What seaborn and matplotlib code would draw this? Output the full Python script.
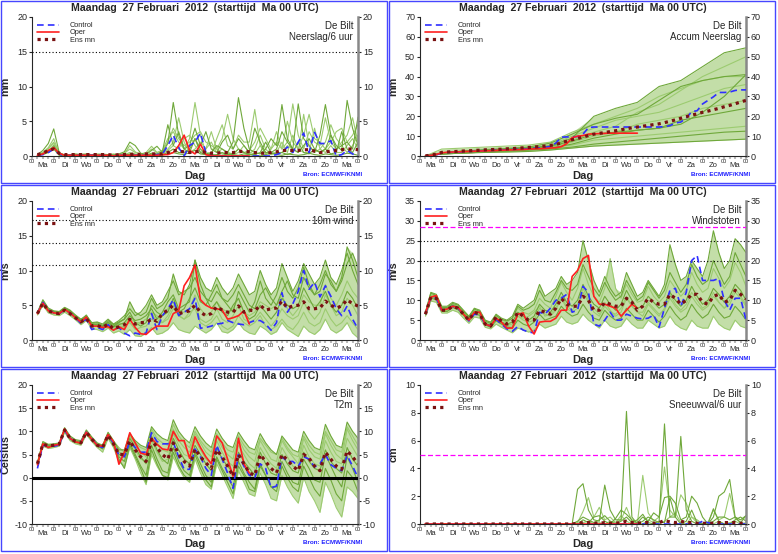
import numpy as np
import pandas as pd
import matplotlib
matplotlib.use("Agg")
import matplotlib.pyplot as plt
import seaborn as sns
from matplotlib.lines import Line2D
from matplotlib.patches import Rectangle

# time axis: 6-hourly steps from Ma 06 UTC to +360 h
hours = list(range(6, 361, 6))
days = ["Ma", "Di", "Wo", "Do", "Vr", "Za", "Zo", "Ma", "Di", "Wo", "Do", "Vr", "Za", "Zo", "Ma"]
title = "Maandag  27 Februari  2012  (starttijd  Ma 00 UTC)"

# ---------------- Neerslag / 6 uur (mm) ----------------
pr_control = [0.1, 0.2, 0.5, 1.0, 0.3, 0.0, 0.1, 0.1, 0.1, 0.1, 0.1, 0.1, 0.1, 0.1, 0.0, 0.1,
              0.1, 0.1, 0.1, 0.1, 0.1, 0.1, 0.2, 0.3, 1.5, 3.0, 1.2, 0.0, 1.5, 2.0, 3.3, 0.5,
              0.0, 0.0, 0.0, 0.0, 0.0, 0.0, 0.0, 0.0, 0.0, 0.0, 0.0, 0.0, 0.2, 0.5, 1.3, 0.5,
              2.0, 3.3, 0.5, 3.4, 1.8, 1.8, 2.2, 0.0, 0.2, 0.8, 0.3, 0.0]
pr_oper = [0.1, 0.3, 0.8, 1.2, 0.4, 0.1, 0.1, 0.1, 0.1, 0.1, 0.1, 0.1, 0.1, 0.1, 0.0, 0.1,
           0.1, 0.1, 0.1, 0.1, 0.1, 0.1, 0.1, 0.2, 0.2, 0.5, 1.5, 3.0, 0.8, 0.3, 1.7, 0.2,
           0.0, 0.0, 0.0, 0.0, 0.0, 0.0, 0.0, 0.0]
pr_ensmn = [0.2, 0.4, 0.8, 1.0, 0.4, 0.2, 0.2, 0.2, 0.2, 0.2, 0.2, 0.2, 0.2, 0.2, 0.1, 0.2,
            0.2, 0.2, 0.3, 0.2, 0.3, 0.3, 0.3, 0.3, 0.5, 0.8, 0.7, 0.6, 0.5, 0.6, 0.7, 0.5,
            0.4, 0.4, 0.5, 0.5, 0.5, 0.6, 0.7, 0.6, 0.5, 0.4, 0.4, 0.5, 0.6, 0.8, 0.8, 0.8,
            0.8, 0.9, 0.9, 0.7, 0.5, 0.6, 0.7, 0.8, 0.9, 1.0, 1.0, 0.9]
pr_members = [
    [0.2, 0.8, 1.8, 3.9, 0.5, 0.1, 0.2, 0.3, 0.2, 0.3, 0.2, 0.1, 0.1, 0.2, 0.1, 0.3,
     0.6, 2.0, 1.5, 0.4, 0.2, 0.8, 1.4, 0.5, 1.8, 7.7, 3.0, 1.0, 0.5, 2.5, 1.0, 0.3,
     0.5, 1.5, 1.0, 0.5, 2.0, 8.4, 4.0, 1.0, 0.5, 0.3, 1.0, 2.5, 1.5, 7.4, 2.5, 1.0,
     0.5, 1.5, 2.5, 1.0, 0.5, 1.0, 3.0, 1.5, 0.8, 8.0, 4.0, 1.5],
    [0.1, 0.5, 1.2, 2.5, 0.3, 0.1, 0.1, 0.1, 0.3, 0.2, 0.1, 0.2, 0.2, 0.1, 0.2, 0.2,
     0.3, 1.5, 0.6, 0.2, 0.3, 1.0, 0.5, 0.8, 2.5, 3.5, 2.0, 1.0, 2.5, 7.7, 3.0, 0.5,
     0.3, 2.5, 4.5, 1.5, 1.0, 3.0, 2.0, 2.0, 6.7, 1.5, 0.3, 1.0, 3.5, 1.0, 2.0, 7.5,
     3.0, 1.0, 3.5, 2.0, 1.5, 5.5, 2.0, 1.0, 2.0, 3.0, 5.5, 2.0],
    [0.0, 0.3, 0.6, 1.5, 0.2, 0.0, 0.0, 0.1, 0.1, 0.1, 0.2, 0.1, 0.0, 0.1, 0.1, 0.1,
     0.1, 0.3, 0.2, 0.1, 0.1, 0.4, 0.3, 0.6, 4.5, 1.5, 3.5, 1.0, 1.5, 4.0, 1.5, 3.5,
     1.0, 0.5, 2.0, 3.0, 1.0, 2.5, 1.5, 0.5, 4.0, 2.0, 0.5, 0.5, 1.0, 3.5, 2.0, 1.0,
     7.5, 2.5, 1.5, 0.5, 3.0, 7.4, 3.0, 1.0, 1.5, 2.0, 1.0, 5.6],
    [0.1, 0.4, 1.0, 1.8, 0.3, 0.1, 0.1, 0.0, 0.0, 0.1, 0.1, 0.0, 0.1, 0.0, 0.1, 0.1,
     0.1, 0.2, 0.1, 0.1, 0.2, 0.2, 0.2, 0.4, 1.0, 2.0, 5.5, 2.0, 0.5, 1.0, 2.0, 1.0,
     3.5, 1.0, 0.3, 0.5, 0.3, 1.0, 0.5, 0.3, 1.0, 3.0, 1.0, 0.2, 0.5, 0.5, 1.5, 1.0,
     0.5, 6.0, 1.5, 0.5, 1.0, 2.0, 4.5, 2.5, 1.5, 0.5, 1.5, 3.0],
    [0.1, 0.2, 0.5, 1.0, 0.1, 0.0, 0.0, 0.0, 0.0, 0.0, 0.0, 0.0, 0.0, 0.0, 0.0, 0.0,
     0.0, 0.0, 0.0, 0.0, 0.0, 0.0, 0.1, 0.1, 0.3, 0.5, 0.3, 0.2, 0.5, 0.8, 0.3, 0.2,
     0.2, 0.1, 0.1, 0.3, 0.2, 0.1, 0.3, 0.2, 0.1, 0.0, 0.2, 0.4, 0.2, 0.1, 0.3, 0.2,
     0.1, 0.2, 0.4, 0.2, 0.1, 0.3, 0.2, 0.1, 0.2, 0.4, 0.3, 0.1],
    [0.1, 0.3, 0.8, 1.3, 0.2, 0.1, 0.0, 0.1, 0.1, 0.0, 0.1, 0.1, 0.0, 0.1, 0.0, 0.1,
     0.2, 0.5, 0.3, 0.1, 0.1, 0.3, 0.2, 0.3, 0.8, 1.5, 1.0, 2.5, 3.0, 1.5, 0.5, 1.0,
     2.0, 0.5, 1.0, 0.5, 0.2, 0.5, 1.5, 0.5, 0.3, 1.5, 0.5, 0.3, 0.5, 2.0, 0.5, 3.0,
     1.0, 0.5, 0.5, 4.0, 1.0, 0.5, 1.5, 0.5, 0.5, 1.5, 2.5, 1.0],
    [0.1, 0.3, 0.7, 1.1, 0.3, 0.1, 0.1, 0.1, 0.1, 0.1, 0.1, 0.1, 0.1, 0.1, 0.1, 0.0,
     0.1, 0.2, 0.1, 0.1, 0.2, 0.1, 0.1, 0.2, 0.5, 1.0, 0.5, 0.5, 1.0, 2.5, 0.5, 0.2,
     0.1, 0.2, 0.5, 0.2, 0.3, 1.0, 0.5, 0.2, 0.2, 0.5, 2.0, 0.5, 0.3, 0.5, 0.2, 0.5,
     2.0, 0.5, 0.3, 1.0, 0.5, 1.0, 0.3, 0.5, 3.5, 1.0, 0.5, 2.0],
    [0.2, 0.5, 1.1, 2.0, 0.4, 0.2, 0.1, 0.2, 0.2, 0.2, 0.2, 0.3, 0.3, 0.2, 0.3, 0.2,
     0.4, 1.0, 0.5, 0.3, 0.5, 1.4, 0.5, 0.8, 2.0, 4.0, 2.5, 1.5, 2.0, 3.0, 3.5, 2.0,
     1.5, 1.0, 2.5, 6.0, 2.5, 1.0, 0.5, 0.8, 2.0, 4.0, 2.5, 1.0, 2.0, 1.0, 5.0, 2.0,
     1.0, 3.0, 6.0, 2.5, 2.0, 1.0, 2.0, 3.5, 4.0, 2.0, 3.0, 4.5],
]

# ---------------- Accum Neerslag (mm) ----------------
acc_control = [0.0, 0.2, 0.6, 1.5, 1.8, 1.9, 2.0, 2.1, 2.3, 2.4, 2.6, 2.7, 2.8, 2.9, 3.0, 3.1,
               3.3, 3.4, 3.5, 3.7, 3.9, 4.1, 4.4, 4.8, 6.5, 9.5, 9.6, 9.6, 9.8, 11.0, 14.3, 14.6,
               14.6, 14.6, 14.6, 14.6, 14.6, 14.6, 14.6, 14.6, 14.6, 14.6, 14.6, 14.6, 14.8, 15.3, 16.6, 17.1,
               19.0, 22.3, 22.8, 26.2, 28.0, 29.8, 32.0, 32.0, 32.2, 33.0, 33.3, 33.3]
acc_oper = [0.0, 0.3, 0.8, 1.6, 1.9, 2.0, 2.1, 2.2, 2.3, 2.4, 2.5, 2.6, 2.7, 2.8, 2.9, 3.0,
            3.1, 3.2, 3.3, 3.5, 3.6, 3.7, 3.8, 4.0, 4.2, 4.7, 6.2, 9.2, 10.0, 10.3, 11.0, 11.2,
            11.3, 11.4, 11.5, 11.5, 11.5, 11.5, 11.5, 11.5]
acc_ensmn = [0.1, 0.4, 1.0, 1.8, 2.0, 2.2, 2.3, 2.5, 2.6, 2.8, 2.9, 3.1, 3.2, 3.3, 3.4, 3.6,
             3.7, 3.9, 4.1, 4.3, 4.5, 4.7, 5.0, 5.3, 5.8, 6.6, 7.5, 8.2, 8.8, 9.5, 10.3, 11.0,
             11.4, 11.8, 12.3, 12.7, 13.2, 13.7, 14.2, 14.6, 15.0, 15.4, 15.8, 16.2, 16.8, 17.5, 18.2, 19.0,
             19.8, 20.6, 21.2, 22.0, 22.6, 23.3, 24.0, 24.8, 25.5, 26.3, 27.2, 28.0]
acc_hours = [6, 24, 48, 72, 96, 120, 144, 168, 192, 216, 240, 264, 288, 312, 336, 360]
acc_members = [
    [0, 1.5, 2.5, 3.0, 3.5, 4.0, 5.0, 9.0, 20.0, 24.0, 27.0, 35.0, 38.0, 45.0, 52.0, 54.5],
    [0, 1.2, 2.0, 2.5, 3.0, 3.5, 4.5, 8.0, 12.0, 15.0, 22.0, 26.0, 33.0, 40.0, 45.0, 50.0],
    [0, 1.0, 1.5, 2.0, 2.5, 3.0, 4.0, 6.0, 9.0, 11.0, 13.0, 14.0, 16.0, 22.0, 30.0, 41.0],
    [0, 1.3, 2.2, 2.8, 3.2, 3.8, 5.5, 10.0, 14.0, 18.0, 20.0, 22.0, 26.0, 30.0, 34.0, 36.0],
    [0, 1.0, 1.5, 1.8, 2.0, 2.3, 3.0, 4.0, 5.0, 5.5, 6.0, 6.5, 7.0, 7.5, 8.0, 8.5],
    [0, 1.2, 1.8, 2.3, 2.8, 3.2, 4.0, 5.5, 8.0, 9.0, 10.0, 11.0, 12.0, 13.0, 14.0, 15.0],
    [0, 1.5, 2.5, 3.2, 3.8, 4.5, 6.5, 11.0, 16.0, 19.0, 21.0, 28.0, 35.0, 38.0, 40.0, 41.0],
    [0, 1.1, 1.8, 2.5, 3.0, 3.5, 4.5, 7.0, 10.0, 12.0, 16.0, 18.0, 20.0, 24.0, 26.0, 28.0],
    [0, 1.3, 2.0, 2.8, 3.3, 4.0, 5.0, 7.5, 11.0, 12.0, 13.0, 14.0, 18.0, 20.0, 22.0, 24.0],
    [0, 3.5, 4.0, 4.5, 5.0, 5.5, 7.0, 12.0, 16.0, 20.0, 24.0, 30.0, 34.0, 38.0, 40.0, 40.0],
    [0, 1.0, 1.5, 2.0, 2.5, 3.0, 3.5, 4.5, 6.0, 7.0, 8.0, 9.0, 10.0, 11.0, 12.0, 12.5],
]

# ---------------- 10m wind (m/s) ----------------
wind_control = [3.8, 5.4, 4.3, 3.9, 3.8, 4.3, 3.9, 3.2, 2.4, 3.0, 1.5, 1.8, 1.5, 2.2, 1.5, 1.8,
                1.0, 0.6, 1.0, 0.8, 1.0, 3.8, 1.5, 3.5, 4.5, 5.8, 3.5, 4.0, 4.5, 6.0, 1.7, 1.8,
                2.0, 2.3, 2.4, 2.8, 2.5, 2.3, 2.2, 2.5, 2.8, 2.8, 2.3, 1.4, 2.5, 6.8, 4.0, 5.2,
                7.0, 10.0, 7.3, 8.3, 6.2, 7.8, 6.3, 4.5, 3.5, 4.9, 3.0, 1.6]
wind_oper = [3.8, 5.3, 4.2, 3.9, 3.8, 4.4, 3.9, 3.2, 2.6, 3.3, 2.0, 2.0, 1.8, 1.9, 1.4, 1.9,
             1.5, 3.0, 1.8, 0.9, 0.8, 1.5, 2.0, 2.0, 2.0, 3.8, 4.2, 7.8, 9.0, 10.8, 5.8, 5.0,
             4.6, 4.5, 4.3, 3.0, 3.2, 3.5, 4.2, 2.3]
wind_ensmn = [3.8, 5.3, 4.2, 3.9, 3.8, 4.3, 3.8, 3.2, 2.6, 3.1, 2.0, 2.1, 1.8, 2.3, 1.6, 1.9,
              2.2, 3.0, 2.3, 2.5, 2.5, 3.0, 2.7, 3.8, 4.3, 5.0, 3.8, 4.0, 4.2, 5.0, 4.0, 3.5,
              3.8, 4.8, 4.3, 4.0, 4.0, 4.9, 4.0, 4.3, 4.2, 5.0, 4.3, 4.5, 4.6, 5.6, 4.6, 4.9,
              5.0, 5.5, 4.5, 4.5, 4.6, 5.6, 5.0, 4.6, 4.9, 5.8, 5.2, 4.9]
wind_members = [
    [4.0, 5.8, 4.6, 4.2, 4.1, 4.7, 4.3, 3.6, 3.0, 3.5, 2.5, 2.6, 2.3, 3.0, 2.3, 2.8,
     3.5, 4.5, 3.5, 4.0, 5.0, 6.5, 5.0, 5.5, 7.0, 8.5, 6.5, 7.0, 7.5, 9.0, 7.0, 6.0,
     5.5, 7.0, 6.0, 5.5, 6.5, 8.0, 6.5, 5.0, 4.5, 6.5, 7.5, 6.0, 5.0, 7.0, 8.5, 6.5,
     6.0, 9.0, 7.5, 6.5, 8.0, 10.0, 8.0, 7.0, 9.0, 13.4, 11.5, 9.0],
    [3.6, 5.0, 3.9, 3.6, 3.5, 4.0, 3.5, 2.9, 2.2, 2.8, 1.6, 1.5, 1.2, 1.7, 1.0, 1.3,
     0.8, 1.5, 0.6, 0.5, 1.0, 1.8, 0.8, 1.0, 1.5, 2.5, 1.5, 1.2, 1.0, 2.0, 1.5, 1.0,
     1.5, 2.5, 1.2, 1.0, 1.5, 2.5, 1.5, 1.0, 0.8, 2.0, 1.5, 0.8, 1.2, 2.5, 1.5, 1.0,
     0.5, 2.0, 1.2, 0.8, 1.5, 3.0, 1.5, 1.0, 1.5, 2.5, 1.0, 0.3],
    [3.9, 5.5, 4.3, 4.0, 3.8, 4.4, 3.9, 3.2, 2.7, 3.3, 2.2, 2.3, 2.0, 2.5, 1.9, 2.2,
     2.5, 3.5, 2.8, 3.0, 3.5, 4.5, 3.0, 4.0, 5.5, 6.5, 4.5, 5.0, 5.5, 11.5, 8.0, 6.0,
     4.5, 5.5, 4.0, 3.5, 5.0, 6.0, 4.0, 3.0, 3.5, 5.0, 4.0, 3.0, 4.0, 6.0, 5.0, 4.5,
     5.0, 7.5, 6.0, 4.5, 5.5, 7.0, 5.0, 4.0, 5.0, 7.0, 6.0, 4.5],
    [3.7, 5.2, 4.0, 3.8, 3.7, 4.2, 3.7, 3.0, 2.4, 3.0, 1.9, 2.0, 1.6, 2.2, 1.5, 2.0,
     1.8, 2.8, 2.0, 2.5, 3.0, 4.0, 3.5, 2.5, 3.0, 4.5, 3.5, 3.0, 3.5, 5.0, 3.0, 2.5,
     3.0, 4.5, 3.0, 2.5, 3.5, 5.0, 3.0, 2.5, 3.0, 4.0, 3.0, 2.0, 3.0, 4.5, 3.5, 3.0,
     3.5, 5.5, 4.0, 3.0, 4.0, 6.5, 5.0, 3.5, 4.0, 6.0, 5.0, 3.5],
    [3.8, 5.4, 4.2, 4.0, 3.9, 4.5, 4.1, 3.4, 2.8, 3.4, 2.3, 2.2, 1.9, 2.6, 2.0, 2.5,
     3.0, 4.0, 2.5, 2.0, 2.5, 5.0, 4.0, 3.5, 4.0, 6.0, 4.0, 4.5, 6.0, 7.5, 5.5, 5.0,
     6.5, 8.0, 6.0, 5.0, 4.0, 7.0, 5.5, 4.0, 5.5, 8.5, 6.0, 5.0, 6.5, 9.0, 7.0, 6.0,
     7.5, 10.5, 8.0, 6.5, 7.0, 9.5, 8.5, 7.0, 8.5, 11.0, 12.5, 10.5],
    [3.8, 5.3, 4.1, 3.9, 3.8, 4.3, 3.8, 3.1, 2.5, 3.1, 2.0, 2.1, 1.8, 2.4, 1.7, 2.0,
     2.0, 2.5, 1.5, 1.8, 2.0, 3.0, 2.5, 3.5, 4.5, 5.5, 3.5, 3.0, 4.0, 4.5, 2.5, 2.0,
     2.5, 3.5, 2.0, 1.5, 2.0, 3.5, 2.5, 2.0, 2.5, 3.5, 2.0, 1.5, 2.0, 3.0, 2.0, 1.5,
     2.5, 4.0, 2.5, 2.0, 2.5, 4.5, 3.0, 2.0, 2.5, 3.5, 2.5, 1.5],
    [3.9, 5.6, 4.4, 4.1, 4.0, 4.6, 4.2, 3.5, 2.9, 3.6, 2.4, 2.5, 2.1, 2.8, 2.2, 2.6,
     3.0, 5.5, 4.0, 3.5, 4.0, 6.0, 4.5, 5.0, 6.0, 9.5, 7.0, 6.5, 8.0, 11.5, 9.0, 7.5,
     7.0, 9.0, 7.5, 6.5, 7.5, 9.5, 8.0, 6.5, 7.0, 10.0, 8.0, 6.5, 7.5, 11.0, 9.0, 7.0,
     8.5, 11.0, 9.5, 8.0, 9.0, 11.5, 9.0, 8.0, 10.0, 12.5, 10.0, 8.0],
    [3.8, 5.4, 4.3, 3.9, 3.8, 4.4, 3.9, 3.3, 2.6, 3.2, 2.1, 2.2, 1.9, 2.3, 1.8, 2.4,
     2.2, 3.2, 2.5, 2.5, 3.0, 4.0, 2.5, 2.5, 3.5, 5.0, 4.0, 4.0, 4.5, 6.5, 4.5, 3.5,
     4.0, 5.5, 4.5, 4.0, 4.5, 6.0, 4.0, 3.5, 4.0, 5.5, 5.0, 4.5, 5.0, 6.5, 4.5, 3.5,
     4.5, 6.5, 5.5, 5.0, 5.0, 8.0, 6.0, 5.0, 6.5, 8.5, 7.0, 6.0],
]

# ---------------- Windstoten (m/s) ----------------
gust_control = [6.5, 10.8, 10.5, 7.5, 7.8, 8.5, 8.0, 6.5, 4.8, 6.5, 6.3, 4.0, 3.5, 5.2, 4.0, 2.8,
                2.2, 3.4, 2.5, 2.0, 1.8, 7.0, 6.5, 8.0, 10.0, 10.5, 11.5, 7.0, 7.5, 13.5, 12.0, 4.0,
                3.5, 5.0, 7.0, 5.0, 5.0, 6.5, 6.0, 5.5, 5.3, 5.5, 6.3, 3.2, 8.0, 12.5, 13.0, 8.5,
                12.0, 20.0, 21.3, 15.0, 15.0, 15.0, 15.5, 10.0, 7.5, 10.5, 10.5, 5.0]
gust_oper = [6.8, 10.8, 11.2, 7.5, 7.8, 8.5, 8.2, 6.5, 5.0, 7.0, 7.0, 4.0, 3.5, 5.5, 4.5, 3.0,
             3.0, 6.5, 6.8, 3.5, 1.5, 4.5, 4.7, 4.7, 5.5, 7.5, 7.5, 16.0, 17.5, 20.5, 21.3, 11.0,
             9.0, 9.0, 8.5, 8.0, 6.0, 7.5, 9.0, 8.0]
gust_ensmn = [6.5, 10.8, 10.5, 7.5, 7.5, 8.5, 8.0, 6.5, 5.0, 7.0, 6.5, 4.0, 3.5, 5.8, 4.8, 4.0,
              4.5, 7.0, 6.0, 5.0, 5.0, 7.5, 7.0, 6.5, 8.0, 10.5, 9.0, 8.5, 8.5, 11.0, 10.0, 7.5,
              7.5, 9.5, 9.0, 8.5, 8.5, 10.5, 9.5, 7.5, 8.5, 10.5, 9.5, 9.0, 9.0, 11.5, 10.5, 9.0,
              10.0, 11.5, 11.5, 9.5, 9.0, 11.0, 11.5, 9.5, 10.0, 12.5, 11.5, 10.3]
gust_members = [
    [7.0, 12.0, 11.5, 8.5, 8.5, 9.5, 9.0, 7.5, 6.0, 8.0, 7.5, 5.0, 4.5, 6.5, 5.5, 5.0,
     6.0, 9.0, 8.0, 9.0, 10.0, 14.0, 11.0, 12.0, 13.0, 16.0, 14.0, 15.0, 17.0, 25.0, 20.0, 15.0,
     12.0, 16.0, 13.0, 11.0, 12.0, 17.0, 14.0, 11.0, 12.0, 15.0, 13.0, 11.0, 14.0, 24.0, 19.0, 15.0,
     16.0, 20.0, 18.0, 16.0, 20.0, 27.5, 22.0, 18.0, 20.0, 25.5, 24.0, 22.0],
    [6.0, 9.8, 9.5, 6.8, 6.8, 7.5, 7.0, 5.5, 4.2, 5.8, 5.5, 3.2, 2.8, 4.0, 3.2, 2.5,
     1.8, 3.0, 2.5, 2.0, 2.5, 4.0, 3.0, 3.5, 4.0, 6.0, 4.5, 4.0, 4.5, 6.5, 5.0, 4.0,
     3.0, 5.0, 3.5, 3.0, 3.5, 5.5, 4.0, 3.0, 3.0, 5.0, 4.0, 3.0, 3.5, 6.0, 4.0, 3.0,
     2.5, 5.0, 3.5, 3.0, 3.0, 6.0, 4.0, 3.0, 2.5, 5.0, 3.5, 3.0],
    [6.5, 11.0, 10.8, 7.8, 7.8, 8.8, 8.2, 6.8, 5.2, 7.2, 6.8, 4.3, 3.6, 5.6, 4.5, 4.0,
     4.5, 7.0, 6.0, 5.0, 6.0, 9.0, 7.5, 7.0, 9.0, 12.0, 9.5, 8.5, 10.0, 14.0, 11.0, 9.0,
     8.0, 11.0, 9.0, 7.5, 9.0, 12.5, 10.0, 8.0, 8.5, 11.0, 9.5, 8.0, 9.0, 12.0, 10.0, 8.5,
     10.0, 13.5, 11.0, 9.0, 10.0, 13.0, 11.5, 9.5, 11.0, 14.0, 12.5, 10.0],
    [6.8, 11.5, 11.0, 8.0, 8.0, 9.0, 8.5, 7.0, 5.5, 7.5, 7.0, 4.6, 4.0, 6.0, 5.0, 4.5,
     5.5, 8.0, 7.0, 6.5, 7.5, 10.5, 9.0, 8.0, 11.0, 14.5, 12.0, 10.0, 13.0, 18.0, 14.0, 11.0,
     9.5, 13.0, 20.5, 13.0, 10.5, 14.0, 11.5, 9.5, 10.0, 13.5, 11.0, 9.5, 11.0, 15.0, 13.0, 11.0,
     12.5, 17.0, 14.0, 12.0, 13.0, 18.0, 15.5, 13.0, 15.0, 19.5, 17.0, 13.5],
    [6.4, 10.5, 10.2, 7.2, 7.2, 8.2, 7.6, 6.2, 4.8, 6.6, 6.2, 3.8, 3.2, 4.8, 4.0, 3.3,
     3.0, 5.0, 4.0, 3.5, 4.5, 6.5, 5.0, 5.5, 6.0, 8.5, 7.0, 6.0, 6.5, 9.0, 7.0, 5.5,
     5.0, 7.5, 6.0, 5.0, 5.5, 8.0, 6.5, 5.0, 5.0, 7.5, 6.0, 4.5, 6.0, 8.5, 6.5, 5.0,
     6.0, 9.0, 7.0, 5.5, 6.5, 9.0, 7.0, 5.5, 6.0, 8.5, 7.0, 5.0],
    [6.6, 11.2, 10.5, 7.6, 7.6, 8.6, 8.0, 6.6, 5.0, 7.0, 6.5, 4.0, 3.4, 5.2, 4.2, 3.8,
     4.0, 6.0, 5.0, 4.5, 5.0, 8.0, 6.5, 6.0, 7.5, 10.5, 8.0, 7.0, 8.0, 12.0, 9.5, 8.0,
     6.5, 9.5, 7.5, 6.0, 7.0, 10.5, 8.5, 7.0, 7.0, 9.5, 8.0, 6.5, 7.5, 10.5, 8.5, 7.0,
     8.0, 11.0, 9.0, 7.5, 8.5, 11.0, 9.5, 8.0, 9.0, 12.0, 10.5, 8.5],
    [6.9, 11.8, 11.2, 8.2, 8.2, 9.2, 8.8, 7.2, 5.8, 7.8, 7.2, 4.8, 4.2, 6.2, 5.2, 4.8,
     5.5, 8.5, 7.5, 8.0, 9.0, 12.5, 10.0, 9.5, 12.0, 15.0, 13.0, 12.5, 14.0, 19.0, 16.0, 13.0,
     11.0, 14.5, 12.0, 10.0, 11.0, 15.0, 12.5, 10.0, 11.0, 14.5, 12.5, 10.5, 12.5, 17.0, 14.5, 12.0,
     14.0, 19.0, 16.0, 14.0, 15.0, 20.0, 17.0, 14.0, 16.0, 22.0, 19.0, 16.0],
    [6.5, 10.8, 10.6, 7.5, 7.5, 8.5, 7.8, 6.4, 4.9, 6.8, 6.4, 4.1, 3.5, 5.0, 4.1, 3.5,
     3.5, 6.0, 5.5, 6.0, 7.0, 8.5, 6.0, 6.5, 8.0, 11.0, 8.5, 7.5, 9.0, 13.0, 10.0, 7.0,
     6.0, 8.5, 7.0, 6.5, 8.0, 11.0, 8.5, 7.0, 6.0, 9.0, 7.5, 6.0, 8.0, 11.5, 9.0, 7.5,
     9.0, 12.0, 10.0, 8.0, 9.0, 12.0, 9.5, 8.0, 10.0, 13.0, 11.0, 9.0],
]

# ---------------- T2m (Celsius) ----------------
t2m_control = [2.0, 7.0, 6.8, 6.8, 7.0, 10.2, 8.5, 7.8, 7.6, 9.8, 8.5, 7.0, 6.5, 9.2, 7.5, 4.8,
               4.5, 7.8, 6.5, 5.5, 5.5, 9.7, 7.8, 7.3, 7.3, 7.6, 4.5, 1.8, 1.8, 6.2, 4.5, 2.0,
               0.5, 7.0, 4.0, 1.0, -2.3, 5.0, 2.5, 0.5, 0.0, 3.0, 2.0, -2.2, -1.8, 4.5, 3.5, 3.5,
               2.5, 4.5, 4.0, 2.3, 3.0, 5.0, 2.8, 2.0, 1.5, 4.8, 2.5, 0.0]
t2m_oper = [2.8, 7.3, 6.5, 7.0, 7.2, 10.5, 8.5, 7.7, 7.5, 9.8, 8.3, 7.0, 6.8, 9.3, 7.8, 2.9,
            5.5, 9.7, 7.5, 5.3, 5.0, 8.5, 7.2, 6.2, 6.0, 10.0, 8.0, 8.0, 4.2, 8.8, 6.5, 4.5,
            3.0, 9.0, 7.5, 4.0, 0.3, 8.5, 3.0, 1.0]
t2m_ensmn = [3.0, 7.3, 6.8, 7.0, 7.2, 10.3, 8.5, 7.8, 7.5, 9.8, 8.3, 7.0, 6.5, 9.2, 7.3, 5.0,
             5.0, 8.0, 6.0, 4.5, 3.5, 8.3, 6.5, 5.0, 4.0, 7.5, 5.0, 3.5, 2.5, 6.2, 4.5, 3.2,
             2.0, 6.0, 4.5, 2.5, 0.3, 5.0, 3.0, 1.0, 0.5, 5.0, 3.5, 2.0, 1.0, 5.0, 3.8, 2.5,
             1.5, 5.0, 4.2, 2.5, 1.5, 5.5, 4.0, 2.5, 1.8, 5.8, 4.5, 3.0]
t2m_members = [
    [3.3, 7.8, 7.2, 7.3, 7.5, 10.8, 9.0, 8.2, 8.0, 10.3, 8.8, 7.5, 7.0, 9.8, 8.0, 6.0,
     6.0, 9.5, 8.0, 7.0, 6.5, 11.0, 9.5, 8.5, 8.0, 12.5, 10.0, 8.5, 7.5, 11.0, 9.0, 7.5,
     6.5, 10.5, 8.5, 7.0, 6.5, 9.8, 8.0, 6.5, 6.0, 9.5, 7.5, 6.0, 5.0, 9.0, 7.5, 6.0,
     5.5, 10.0, 8.0, 6.5, 6.0, 11.5, 9.0, 7.0, 6.5, 12.0, 10.0, 8.5],
    [2.5, 6.8, 6.3, 6.5, 6.8, 9.8, 8.0, 7.3, 7.0, 9.3, 7.8, 6.5, 5.5, 8.5, 6.5, 3.5,
     2.5, 6.5, 4.0, 1.0, -1.5, 5.0, 2.5, 0.5, -0.5, 4.5, 2.0, 0.0, -1.0, 4.0, 1.0, -1.5,
     -2.5, 3.0, 0.5, -2.0, -4.5, 1.5, -1.0, -3.5, -4.0, 1.0, -1.5, -4.5, -5.0, 0.5, -2.0, -4.0,
     -5.5, 0.0, -3.0, -5.0, -7.5, -1.0, -3.5, -6.5, -8.5, -2.0, -3.0, -4.5],
    [3.0, 7.4, 6.9, 7.0, 7.2, 10.4, 8.6, 7.9, 7.6, 9.9, 8.4, 7.1, 6.7, 9.4, 7.5, 5.0,
     4.5, 8.5, 6.5, 4.5, 3.0, 9.0, 6.0, 4.0, 3.0, 8.5, 6.0, 4.0, 3.0, 7.0, 5.0, 3.0,
     1.5, 6.5, 4.0, 2.5, 1.0, 5.5, 3.5, 2.0, 0.5, 5.5, 3.0, 1.0, 0.5, 5.0, 3.0, 1.5,
     1.0, 5.5, 3.5, 2.0, 1.5, 6.0, 3.5, 2.0, 1.0, 6.5, 4.0, 2.5],
    [3.2, 7.6, 7.0, 7.1, 7.3, 10.5, 8.7, 8.0, 7.7, 10.0, 8.5, 7.2, 6.8, 9.5, 7.8, 5.5,
     5.0, 9.0, 7.0, 5.5, 4.5, 10.0, 7.5, 6.0, 5.5, 10.5, 8.0, 6.5, 5.5, 9.5, 7.5, 5.5,
     4.5, 9.0, 6.5, 5.0, 4.0, 8.5, 6.0, 4.5, 3.5, 8.0, 6.0, 4.0, 3.5, 8.0, 6.0, 4.5,
     3.0, 8.5, 6.0, 4.5, 4.0, 9.5, 7.0, 5.0, 4.0, 10.5, 8.0, 6.0],
    [2.8, 7.1, 6.6, 6.8, 7.0, 10.1, 8.3, 7.6, 7.3, 9.6, 8.1, 6.8, 6.2, 9.0, 7.0, 4.5,
     3.5, 7.5, 5.0, 2.5, 0.5, 7.0, 4.0, 1.5, 1.0, 6.5, 3.5, 1.5, 0.5, 5.5, 3.0, 0.5,
     -1.0, 4.5, 2.0, 0.0, -2.0, 3.5, 1.0, -1.0, -2.5, 3.0, 0.5, -2.0, -3.0, 2.5, 0.0, -2.0,
     -3.0, 2.5, 0.0, -2.5, -4.0, 2.0, -0.5, -3.5, -5.0, 1.5, 0.0, -3.0],
    [3.1, 7.5, 7.0, 7.2, 7.4, 10.6, 8.8, 8.1, 7.8, 10.1, 8.6, 7.3, 6.9, 9.6, 7.9, 6.5,
     5.5, 9.0, 7.5, 6.5, 6.0, 10.5, 8.5, 7.5, 7.0, 11.5, 9.0, 7.5, 6.5, 10.0, 8.0, 6.5,
     5.5, 9.5, 7.5, 6.0, 5.5, 9.0, 7.0, 5.5, 5.0, 8.5, 7.0, 5.5, 5.0, 8.5, 6.5, 5.0,
     4.5, 9.0, 7.0, 5.5, 5.0, 10.0, 8.0, 6.0, 5.5, 11.0, 9.0, 7.0],
    [2.9, 7.2, 6.7, 6.9, 7.1, 10.2, 8.4, 7.7, 7.4, 9.7, 8.2, 6.9, 6.4, 9.2, 7.2, 4.0,
     2.0, 7.0, 4.5, 2.0, -1.0, 6.0, 3.0, 0.5, 0.0, 5.5, 2.5, 0.5, -0.5, 5.0, 2.0, -0.5,
     -2.0, 4.0, 1.5, -1.0, -3.5, 2.5, 0.5, -2.5, -3.0, 2.5, 0.5, -2.0, -2.0, 3.5, 1.0, -1.0,
     -1.5, 4.0, 2.0, -0.5, -1.0, 5.0, 2.5, 0.0, -2.0, 4.5, 2.0, -1.0],
    [3.0, 7.3, 6.8, 7.0, 7.2, 10.3, 8.5, 7.8, 7.5, 9.8, 8.3, 7.0, 6.5, 9.3, 7.3, 5.5,
     5.0, 8.0, 6.0, 4.0, 3.5, 8.0, 5.5, 3.5, 4.0, 9.5, 7.0, 5.0, 4.5, 8.0, 6.0, 4.0,
     3.0, 8.0, 5.5, 3.5, 2.5, 7.0, 5.0, 3.0, 2.0, 6.5, 4.5, 3.0, 2.0, 6.5, 4.5, 2.5,
     2.0, 7.0, 4.5, 3.0, 2.5, 8.0, 5.5, 3.5, 3.0, 8.5, 6.5, 4.5],
]

# ---------------- Sneeuwval / 6 uur (cm) ----------------
snow_control = [0, 0, 0, 0, 0, 0, 0, 0, 0, 0, 0, 0, 0, 0, 0, 0,
                0, 0, 0, 0, 0, 0, 0, 0, 0, 0, 0, 0, 0, 0, 0, 0,
                0, 0, 0, 0, 0, 0, 0, 0, 0, 0, 0, 0, 0, 0, 0, 0,
                0, 0, 0, 0.2, 0.1, 0, 0, 0, 0, 0, 0, 0]
snow_oper = [0, 0, 0, 0, 0, 0, 0, 0, 0, 0, 0, 0, 0, 0, 0, 0,
             0, 0, 0, 0, 0, 0, 0, 0, 0, 0, 0, 0, 0, 0, 0, 0,
             0, 0, 0, 0, 0, 0, 0, 0]
snow_ensmn = [0, 0, 0, 0, 0, 0, 0, 0, 0, 0, 0, 0, 0, 0, 0, 0,
              0, 0, 0, 0, 0, 0, 0, 0, 0, 0, 0, 0, 0.05, 0.1, 0.1, 0.05,
              0.05, 0.1, 0.05, 0.05, 0.1, 0.2, 0.1, 0.05, 0.1, 0.1, 0.05, 0.1, 0.25, 0.15, 0.1, 0.2,
              0.1, 0.1, 0.05, 0.05, 0.05, 0.05, 0.1, 0.1, 0.1, 0.1, 0.05, 0.05]
snow_members = [
    [0, 0, 0, 0, 0, 0, 0, 0, 0, 0, 0, 0, 0, 0, 0, 0,
     0, 0, 0, 0, 0, 0, 0, 0, 0, 0, 0, 0, 2.5, 2.9, 1.0, 0.3,
     0.2, 2.8, 1.0, 0.3, 0.3, 8.1, 0.5, 0.0, 0.2, 0.5, 0.3, 0.1, 7.2, 0.5, 0.5, 6.3,
     1.0, 0.2, 0.0, 0.0, 0.0, 0.5, 2.0, 2.3, 3.2, 0.5, 0.1, 0.6],
    [0, 0, 0, 0, 0, 0, 0, 0, 0, 0, 0, 0, 0, 0, 0, 0,
     0, 0, 0, 0, 0, 0, 0, 0, 0, 0, 0, 0, 0.1, 0.9, 1.9, 0.5,
     1.2, 0.3, 0.5, 0.1, 0.3, 1.2, 0.2, 0.0, 3.5, 0.8, 0.2, 0.5, 4.1, 1.0, 0.5, 2.1,
     1.5, 0.5, 0.1, 0.0, 0.1, 1.0, 0.3, 0.5, 2.2, 0.4, 0.1, 0.0],
    [0, 0, 0, 0, 0, 0, 0, 0, 0, 0, 0, 0, 0, 0, 0, 0,
     0, 0, 0, 0, 0, 0, 0, 0, 0, 0, 0, 0, 0.0, 0.3, 0.1, 0.5,
     0.6, 0.2, 0.0, 0.4, 1.0, 0.7, 0.3, 0.1, 0.5, 0.2, 0.8, 0.5, 1.9, 2.0, 1.5, 0.3,
     0.5, 2.0, 1.5, 0.5, 0.0, 0.2, 0.5, 0.5, 0.3, 0.5, 0.3, 0.6],
    [0, 0, 0, 0, 0, 0, 0, 0, 0, 0, 0, 0, 0, 0, 0, 0,
     0, 0, 0, 0, 0, 0, 0, 0, 0, 0, 0, 0, 0.0, 0.1, 0.2, 0.0,
     0.1, 0.0, 0.2, 0.1, 0.6, 0.2, 0.0, 0.1, 0.0, 0.3, 0.1, 0.0, 0.2, 0.5, 0.8, 0.1,
     0.0, 0.5, 0.3, 0.0, 0.1, 0.0, 0.2, 0.0, 0.1, 0.2, 0.0, 0.1],
    [0, 0, 0, 0, 0, 0, 0, 0, 0, 0, 0, 0, 0, 0, 0, 0,
     0, 0, 0, 0, 0, 0, 0, 0, 0, 0, 0, 0, 0.2, 0.5, 0.3, 0.1,
     0.3, 0.6, 0.2, 0.0, 0.2, 0.5, 0.1, 0.3, 0.7, 0.1, 0.0, 0.2, 0.1, 1.9, 0.5, 0.0,
     0.2, 1.0, 0.1, 0.0, 0.0, 1.1, 0.2, 0.0, 0.0, 0.3, 0.5, 0.2],
]

GREENS = ["#6fa83a", "#9ccb70"]
BAND = "#a3cd7a"
BLUE = "#2f2fff"
RED = "#ff2020"
BROWN = "#7a1212"

sns.set_style("ticks")
plt.rcParams["font.family"] = ["Liberation Sans", "DejaVu Sans"]
plt.rcParams["axes.unicode_minus"] = False

W, H = 778, 554
fig = plt.figure(figsize=(W / 100, H / 100), dpi=100)


def make_axes(px, py):
    return fig.add_axes([px / W, 1 - (py + 139) / H, 326 / W, 139 / H])


def panel(px, py, mt, members, control, oper, ensmn, ylim, ystep, ylabel, name, refs, band):
    ax = make_axes(px + 32, py + 17)
    rows = []
    for k, m in enumerate(members):
        for t, v in zip(mt, m):
            rows.append((k, t, v))
    df = pd.DataFrame(rows, columns=["member", "t", "v"])
    if band:
        # light fill over the member spread, to stand in for the 50-member mass
        spread = df.groupby("t")["v"].agg(["min", "max"]).reset_index()
        ax.fill_between(spread["t"], spread["min"], spread["max"], color=BAND, alpha=0.65,
                        lw=0, zorder=1)
    df["shade"] = df["member"] % 2
    for s in (1, 0):
        sns.lineplot(data=df[df["shade"] == s], x="t", y="v", units="member", estimator=None,
                     color=GREENS[s], lw=0.8, ax=ax, legend=False, zorder=2)
    for y, style, col, lw in refs:
        ax.axhline(y, color=col, ls=style, lw=lw, zorder=3)
    sns.lineplot(x=hours, y=control, color=BLUE, ls=(0, (4, 2.5)), lw=1.2, ax=ax, zorder=5)
    sns.lineplot(x=hours[:len(oper)], y=oper, color=RED, lw=1.2, ax=ax, zorder=6)
    sns.lineplot(x=hours, y=ensmn, color=BROWN, ls=(0, (1, 1.3)), lw=2.3, ax=ax, zorder=7)

    ax.set_xlim(0, 360)
    ax.set_ylim(*ylim)
    ax.set_yticks(np.arange(ylim[0], ylim[1] + 0.01, ystep))
    ax.set_xticks(range(0, 361, 24))
    ax.set_xticklabels(["00"] * 16, fontsize=4)
    minor = [t for t in range(6, 360, 6) if t % 24 != 0]
    ax.set_xticks(minor, minor=True)
    ax.set_xticklabels([days[t // 24] if t % 24 == 12 else "" for t in minor], minor=True, fontsize=5.5)
    ax.tick_params(axis="x", which="major", length=2.5, width=1.5, color="#bbbbbb", pad=0)
    ax.tick_params(axis="x", which="minor", length=2.5, width=1.5, color="#bbbbbb", pad=1.5)
    ax.tick_params(axis="y", which="both", direction="out", length=2, labelsize=6.5, pad=1.5,
                   right=True, labelright=True)
    ax.spines["top"].set_visible(False)
    ax.spines["right"].set_color("#888888")
    ax.spines["right"].set_linewidth(1.8)
    ax.spines["left"].set_linewidth(0.8)
    ax.spines["bottom"].set_linewidth(0.8)
    ax.set_xlabel("Dag", fontsize=8, fontweight="bold")
    ax.xaxis.set_label_coords(0.5, -0.105)
    ax.set_ylabel(ylabel, fontsize=7.8, fontweight="bold")
    ax.yaxis.set_label_coords(-0.066, 0.5)

    handles = [Line2D([], [], color=BLUE, ls=(0, (4, 2.5)), lw=1.2),
               Line2D([], [], color=RED, lw=1.2),
               Line2D([], [], color=BROWN, ls=(0, (1, 1.3)), lw=2.3)]
    ax.legend(handles, ["Control", "Oper", "Ens mn"], loc="upper left", bbox_to_anchor=(0.0, 1.0),
              fontsize=5.3, frameon=False, handlelength=3.0, labelspacing=0.0, borderaxespad=0.3,
              handletextpad=1.4)
    ax.text(0.985, 0.97, "De Bilt", transform=ax.transAxes, ha="right", va="top", fontsize=7)
    ax.text(0.985, 0.89, name, transform=ax.transAxes, ha="right", va="top", fontsize=7)

    fig.text((px + 195) / W, 1 - (py + 8) / H, title, ha="center", va="center",
             fontsize=7.6, fontweight="bold")
    fig.text((px + 362) / W, 1 - (py + 174) / H, "Bron: ECMWF/KNMI", ha="right", va="center",
             fontsize=4.5, fontweight="bold", color="#1f1fff")
    fig.patches.append(Rectangle(((px + 1) / W, 1 - (py + 183) / H), 386 / W, 182 / H,
                                 transform=fig.transFigure, fill=False, ec="#4646ff", lw=1))
    return ax


dot = (0, (1, 2))
panel(0, 0, hours, pr_members, pr_control, pr_oper, pr_ensmn, (0, 20), 5, "mm",
      "Neerslag/6 uur", [(15, dot, "k", 0.8)], False)
panel(388, 0, acc_hours, acc_members, acc_control, acc_oper, acc_ensmn, (0, 70), 10, "mm",
      "Accum Neerslag", [], True)
panel(0, 184, hours, wind_members, wind_control, wind_oper, wind_ensmn, (0, 20), 5, "m/s",
      "10m wind", [(10.8, dot, "k", 0.8), (13.9, dot, "k", 0.8), (17.2, dot, "k", 0.8)], True)
panel(388, 184, hours, gust_members, gust_control, gust_oper, gust_ensmn, (0, 35), 5, "m/s",
      "Windstoten", [(20, dot, "k", 0.8), (25, dot, "k", 0.8), (28.5, (0, (4, 2)), "#ff00ff", 0.9)], True)
panel(0, 368, hours, t2m_members, t2m_control, t2m_oper, t2m_ensmn, (-10, 20), 5, "Celsius",
      "T2m", [(0, "-", "k", 2.2)], True)
panel(388, 368, hours, snow_members, snow_control, snow_oper, snow_ensmn, (0, 10), 2, "cm",
      "Sneeuwval/6 uur", [(5, (0, (4, 2)), "#ff00ff", 0.9)], False)

fig.savefig("out.png", dpi=100)
